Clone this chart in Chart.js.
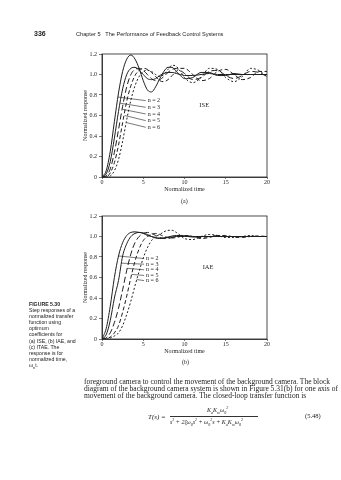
<!DOCTYPE html>
<html>
<head>
<meta charset="utf-8">
<script src="https://cdn.jsdelivr.net/npm/chart.js@4.4.0/dist/chart.umd.min.js"></script>
<style>
  body { margin: 0; width: 341px; height: 480px; background: #fff; position: relative; overflow: hidden; color: #222; font-family: "Liberation Serif", serif; }
  .t { position: absolute; white-space: nowrap; color: #222; will-change: transform; }
  .sans { font-family: "Liberation Sans", sans-serif; }
  canvas { position: absolute; }
  #capt { left: 29px; top: 301px; font-size: 5.2px; line-height: 6.1px; }
  #para { left: 84px; top: 378px; font-size: 7.5px; line-height: 7px; }
</style>
</head>
<body>

<div class="t sans" style="left:34px;top:30px;font-size:7px;font-weight:bold;">336</div>
<div class="t sans" style="left:76px;top:31px;font-size:5.6px;">Chapter 5&nbsp;&nbsp;&nbsp;The Performance of Feedback Control Systems</div>

<canvas id="iseChart" width="193" height="165" style="left:82px;top:44px;width:193px;height:165px;"></canvas>
<div class="t" style="left:181px;top:198px;font-size:6px;">(a)</div>

<canvas id="iaeChart" width="193" height="165" style="left:82px;top:206px;width:193px;height:165px;"></canvas>
<div class="t" style="left:182px;top:359px;font-size:6px;">(b)</div>

<div id="capt" class="t sans">
  <b>FIGURE 5.30</b><br>Step responses of a<br>normalized transfer<br>function using<br>optimum<br>coefficients for<br>(a) ISE, (b) IAE, and<br>(c) ITAE. The<br>response is for<br>normalized time,<br>ω<sub style="font-size:4px">n</sub>t.
</div>

<div id="para" class="t">
  foreground camera to control the movement of the background camera. The block<br>
  diagram of the background camera system is shown in Figure 5.31(b) for one axis of<br>
  movement of the background camera. The closed-loop transfer function is
</div>

<div class="t" style="left:148px;top:413px;font-size:7px;font-style:italic;">T(s) =</div>
<div class="t" style="left:207px;top:405px;font-size:6px;font-style:italic;">K<sub style="font-size:4px">a</sub>K<sub style="font-size:4px">m</sub>ω<sub style="font-size:4px">0</sub><sup style="font-size:4px">2</sup></div>
<div style="position:absolute;left:170px;top:416px;width:88px;height:0;border-top:0.6px solid #333;"></div>
<div class="t" style="left:170px;top:417px;font-size:6px;font-style:italic;">s<sup style="font-size:4px">3</sup> + 2ζω<sub style="font-size:4px">0</sub>s<sup style="font-size:4px">2</sup> + ω<sub style="font-size:4px">0</sub><sup style="font-size:4px">2</sup>s + K<sub style="font-size:4px">a</sub>K<sub style="font-size:4px">m</sub>ω<sub style="font-size:4px">0</sub><sup style="font-size:4px">2</sup></div>
<div class="t" style="left:305px;top:412px;font-size:6.5px;">(5.48)</div>

<script>
// normalized time samples
const times = [0, 0.5, 1, 1.5, 2, 2.5, 3, 3.5, 4, 4.5, 5, 5.5, 6, 6.5, 7, 7.5, 8, 8.5, 9, 9.5, 10,
               11, 12, 13, 14, 15, 16, 17, 18, 19, 20];
const orders = ["n = 2", "n = 3", "n = 4", "n = 5", "n = 6"];
const xTicks = [0, 5, 10, 15, 20];
const yTicks = [0, 0.2, 0.4, 0.6, 0.8, 1.0, 1.2];

/* ---- (a) ISE ---- */
const iseN2 = [0, 0.06, 0.25, 0.54, 0.82, 1.03, 1.15, 1.19, 1.15, 1.06, 0.94, 0.85, 0.83, 0.88, 0.96, 1.03, 1.07, 1.07, 1.03, 0.99, 0.96,
               0.97, 1.02, 1.02, 0.99, 0.99, 1.01, 1.0, 1.0, 1.0, 1.0];
const iseN3 = [0, 0.03, 0.15, 0.38, 0.64, 0.86, 1.0, 1.06, 1.07, 1.04, 1.0, 0.96, 0.95, 0.96, 0.99, 1.01, 1.02, 1.02, 1.01, 1.0, 0.99,
               0.99, 1.0, 1.01, 1.0, 1.0, 1.0, 1.0, 1.0, 1.0, 1.0];
const iseN4 = [0, 0.01, 0.08, 0.24, 0.46, 0.69, 0.88, 1.0, 1.05, 1.06, 1.04, 1.0, 0.96, 0.94, 0.95, 0.98, 1.02, 1.05, 1.06, 1.04, 1.01,
               0.95, 0.97, 1.03, 1.04, 0.99, 0.96, 0.99, 1.03, 1.02, 0.98];
const iseN5 = [0, 0.0, 0.04, 0.14, 0.31, 0.53, 0.74, 0.89, 0.99, 1.04, 1.06, 1.05, 1.02, 0.98, 0.94, 0.93, 0.95, 0.99, 1.03, 1.06, 1.06,
               1.0, 0.94, 0.96, 1.03, 1.05, 1.0, 0.95, 0.97, 1.03, 1.03];
const iseN6 = [0, 0.0, 0.01, 0.06, 0.17, 0.35, 0.56, 0.75, 0.89, 0.98, 1.03, 1.04, 1.03, 1.0, 0.98, 1.0, 1.05, 1.09, 1.08, 1.03, 0.97,
               0.92, 0.97, 1.06, 1.05, 0.97, 0.93, 0.98, 1.06, 1.04, 0.98];

/* ---- (b) IAE ---- */
const iaeN2 = [0, 0.1, 0.32, 0.6, 0.81, 0.94, 1.01, 1.04, 1.045, 1.04, 1.03, 1.01, 1.0, 0.99, 0.985, 0.985, 0.99, 0.995, 1.0, 1.0, 1.0,
               1.0, 1.0, 1.0, 1.0, 1.0, 1.0, 1.0, 1.0, 1.0, 1.0];
const iaeN3 = [0, 0.04, 0.18, 0.4, 0.57, 0.81, 0.93, 1.0, 1.03, 1.04, 1.035, 1.02, 1.0, 0.985, 0.98, 0.985, 0.995, 1.005, 1.01, 1.01, 1.005,
               0.995, 1.0, 1.0, 1.0, 1.0, 1.0, 1.0, 1.0, 1.0, 1.0];
const iaeN4 = [0, 0.01, 0.06, 0.16, 0.3, 0.48, 0.67, 0.83, 0.94, 1.0, 1.03, 1.04, 1.03, 1.01, 0.99, 0.98, 0.98, 0.99, 1.0, 1.01, 1.01,
               1.0, 0.99, 1.0, 1.01, 1.0, 1.0, 1.0, 1.0, 1.0, 1.0];
const iaeN5 = [0, 0.0, 0.02, 0.06, 0.13, 0.26, 0.42, 0.6, 0.76, 0.88, 0.96, 1.0, 1.02, 1.03, 1.02, 1.0, 0.99, 0.985, 0.99, 1.0, 1.01,
               1.0, 0.98, 0.99, 1.01, 1.01, 0.995, 0.99, 1.0, 1.005, 1.0];
const iaeN6 = [0, 0.0, 0.01, 0.03, 0.06, 0.13, 0.24, 0.37, 0.52, 0.66, 0.79, 0.89, 0.96, 1.0, 1.02, 1.045, 1.06, 1.06, 1.04, 1.01, 0.98,
               0.97, 1.0, 1.02, 1.01, 0.99, 0.99, 1.0, 1.01, 1.0, 1.0];

// leader lines: [t start, value start, t end, value end]
const iseLeaders = [[1.93, 0.78, 5.3, 0.745], [2.22, 0.72, 5.3, 0.68], [2.5, 0.66, 5.3, 0.615], [2.76, 0.6, 5.3, 0.55], [3.0, 0.53, 5.3, 0.485]];
const iaeLeaders = [[2.0, 0.81, 5.1, 0.785], [2.35, 0.74, 5.1, 0.73], [3.05, 0.69, 5.1, 0.675], [3.6, 0.63, 5.1, 0.62], [4.2, 0.58, 5.1, 0.57]];

const dashes = [[], [], [6, 3], [4, 2.5], [2, 2]];
const INK = "#1e1e1e";
const SERIF = "'Liberation Serif', serif";

/* ================== PLUGINS ================== */
const framePlugin = {
  id: "frame",
  afterDraw(chart) {
    const { ctx, chartArea: a } = chart;
    ctx.save();
    ctx.strokeStyle = INK;
    ctx.lineWidth = 0.8;
    ctx.strokeRect(a.left, a.top, a.right - a.left, a.bottom - a.top);
    ctx.restore();
  }
};

const leaderPlugin = {
  id: "leaders",
  afterDatasetsDraw(chart, args, opts) {
    const { ctx, scales: { x, y } } = chart;
    ctx.save();
    ctx.strokeStyle = INK;
    ctx.fillStyle = INK;
    ctx.lineWidth = 0.6;
    ctx.font = "6px " + SERIF;
    ctx.textBaseline = "middle";
    opts.lines.forEach((l, i) => {
      ctx.beginPath();
      ctx.moveTo(x.getPixelForValue(l[0]), y.getPixelForValue(l[1]));
      ctx.lineTo(x.getPixelForValue(l[2]), y.getPixelForValue(l[3]));
      ctx.stroke();
      ctx.fillText(orders[i], x.getPixelForValue(l[2]) + 2, y.getPixelForValue(l[3]));
    });
    ctx.font = "6.5px " + SERIF;
    ctx.fillText(opts.tag, x.getPixelForValue(opts.tagAt[0]), y.getPixelForValue(opts.tagAt[1]));
    ctx.restore();
  }
};

/* ================== CHARTS ================== */
function makeChart(id, series, leaders, tag, tagAt) {
  const datasets = series.map((vals, i) => ({
    label: orders[i],
    data: times.map((t, k) => ({ x: t, y: vals[k] })),
    borderColor: INK,
    borderWidth: 1,
    borderDash: dashes[i],
    pointRadius: 0,
    cubicInterpolationMode: "monotone",
    fill: false
  }));

  return new Chart(document.getElementById(id), {
    type: "line",
    data: { datasets },
    plugins: [framePlugin, leaderPlugin],
    options: {
      responsive: false,
      animation: false,
      layout: { padding: { top: 10, right: 8, left: 0, bottom: 16 } },
      plugins: {
        legend: { display: false },
        tooltip: { enabled: false },
        leaders: { lines: leaders, tag, tagAt }
      },
      scales: {
        x: {
          type: "linear", min: 0, max: 20,
          afterFit: s => { s.height = 16; },
          afterBuildTicks: s => { s.ticks = xTicks.map(v => ({ value: v })); },
          ticks: { color: INK, font: { family: SERIF, size: 6 }, padding: 0, maxRotation: 0 },
          grid: { drawOnChartArea: false, tickLength: 2, color: INK, lineWidth: 0.6 },
          border: { color: INK, width: 0.8 },
          title: { display: true, text: "Normalized time", color: INK, font: { family: SERIF, size: 6 }, padding: 0 }
        },
        y: {
          min: 0, max: 1.2,
          afterFit: s => { s.width = 20; },
          afterBuildTicks: s => { s.ticks = yTicks.map(v => ({ value: v })); },
          ticks: {
            color: INK, font: { family: SERIF, size: 6 }, padding: 2,
            callback: v => (v === 0 ? "0" : v.toFixed(1))
          },
          grid: { drawOnChartArea: false, tickLength: 3, color: INK, lineWidth: 0.6 },
          border: { color: INK, width: 0.8 },
          title: { display: true, text: "Normalized response", color: INK, font: { family: SERIF, size: 6 }, padding: 0 }
        }
      }
    }
  });
}

makeChart("iseChart", [iseN2, iseN3, iseN4, iseN5, iseN6], iseLeaders, "ISE", [11.8, 0.7]);
makeChart("iaeChart", [iaeN2, iaeN3, iaeN4, iaeN5, iaeN6], iaeLeaders, "IAE", [12.2, 0.7]);
</script>
</body>
</html>
